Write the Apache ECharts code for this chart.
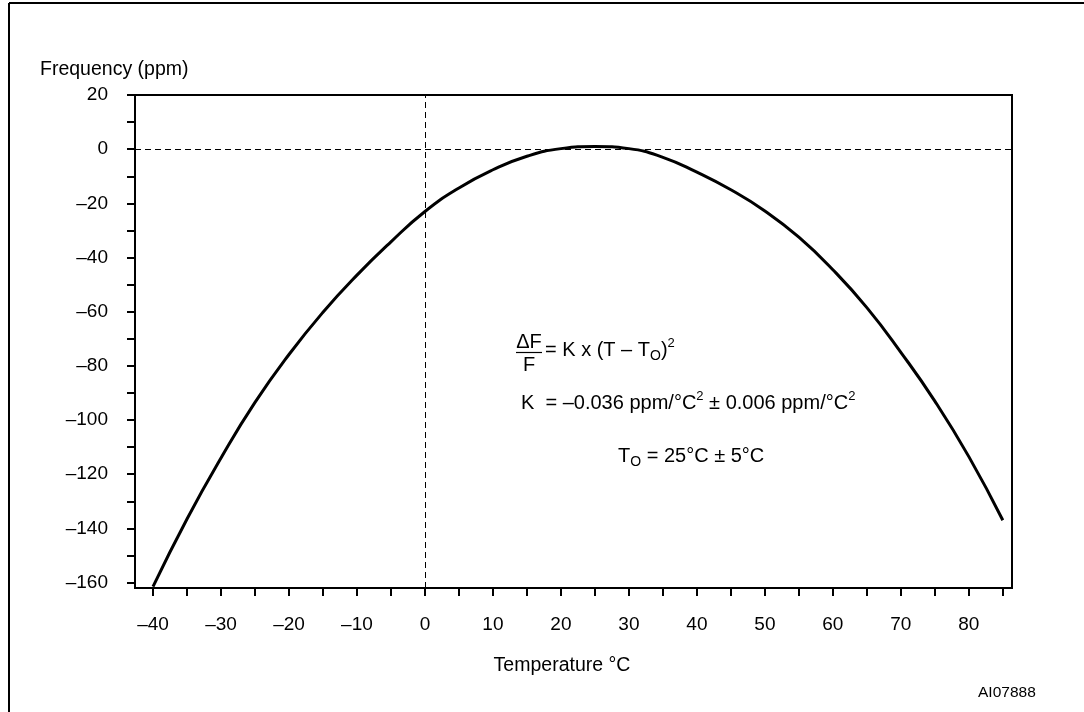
<!DOCTYPE html>
<html>
<head>
<meta charset="utf-8">
<script src="https://cdn.jsdelivr.net/npm/echarts@6/dist/echarts.min.js"></script>
<style>
  html, body { margin: 0; padding: 0; background: #fff; }
  #chart { width: 1084px; height: 712px; }
</style>
</head>
<body>
<div id="chart"></div>
<script>
// Temperature (°C) and frequency deviation (ppm)
var temperatures = [-40, -35, -30, -25, -20, -15, -10, -5, 0, 5, 10, 15, 20, 25, 30, 35, 40, 45, 50, 55, 60, 65, 70, 75, 80, 85];
var frequencyPpm = [-161.5, -136.5, -114, -93.5, -75.8, -60.2, -46.5, -34.2, -23, -14.3, -7.6, -2.6, 0.2, 1.0, 0.2, -3, -8.5, -15, -22.8, -32.5, -44.5, -58.5, -75, -93, -113.5, -137];

var xTickValues = [-40, -35, -30, -25, -20, -15, -10, -5, 0, 5, 10, 15, 20, 25, 30, 35, 40, 45, 50, 55, 60, 65, 70, 75, 80, 85];
var xLabelValues = [-40, -30, -20, -10, 0, 10, 20, 30, 40, 50, 60, 70, 80];
var yTickValues = [-160, -150, -140, -130, -120, -110, -100, -90, -80, -70, -60, -50, -40, -30, -20, -10, 0, 10, 20];
var yLabelValues = [-160, -140, -120, -100, -80, -60, -40, -20, 0, 20];

var seriesData = temperatures.map(function (t, i) { return [t, frequencyPpm[i]]; });
var FONT = '"Liberation Sans", Arial, Helvetica, sans-serif';
function dashMinus(v) { return String(v).replace('-', '\u2013'); }

var chart = echarts.init(document.getElementById('chart'), null, { renderer: 'canvas' });
chart.setOption({
  animation: false,
  backgroundColor: '#fff',
  textStyle: { fontFamily: FONT },
  title: {
    text: 'Frequency (ppm)',
    left: 35, top: 55,
    textStyle: { fontFamily: FONT, fontSize: 19.5, fontWeight: 'normal', color: '#000' }
  },
  grid: {
    left: 135, right: 72, top: 95, bottom: 124,
    show: true, borderColor: '#000', borderWidth: 2, backgroundColor: 'transparent'
  },
  xAxis: {
    type: 'value',
    min: -42.65, max: 86.35,
    name: 'Temperature \u00B0C',
    nameLocation: 'middle',
    nameGap: 68,
    nameTextStyle: { fontFamily: FONT, fontSize: 19.5, color: '#000', padding: [0, 23, 0, 0] },
    axisLine: { show: true, onZero: false, lineStyle: { color: '#000', width: 2 } },
    axisTick: { show: true, length: 8, lineStyle: { color: '#000', width: 2 }, customValues: xTickValues },
    axisLabel: { fontFamily: FONT, fontSize: 19, color: '#000', margin: 27, customValues: xLabelValues, formatter: dashMinus },
    splitLine: { show: false }
  },
  yAxis: {
    type: 'value',
    min: -162, max: 20,
    axisLine: { show: true, onZero: false, lineStyle: { color: '#000', width: 2 } },
    axisTick: { show: true, length: 8, lineStyle: { color: '#000', width: 2 }, customValues: yTickValues },
    axisLabel: { fontFamily: FONT, fontSize: 19, color: '#000', margin: 27, customValues: yLabelValues, formatter: dashMinus },
    splitLine: { show: false }
  },
  series: [{
    type: 'line',
    data: seriesData,
    smooth: true,
    showSymbol: false,
    lineStyle: { color: '#000', width: 3 },
    silent: true,
    markLine: {
      silent: true,
      symbol: 'none',
      label: { show: false },
      lineStyle: { color: '#000', width: 1, type: [6, 4] },
      data: [{ xAxis: 0 }, { yAxis: 0 }]
    }
  }],
  graphic: [
    { type: 'line', shape: { x1: 9, y1: 3, x2: 1084, y2: 3 }, style: { stroke: '#000', lineWidth: 2 } },
    { type: 'line', shape: { x1: 9, y1: 3, x2: 9, y2: 712 }, style: { stroke: '#000', lineWidth: 2 } },
    // formula line 1: ΔF / F = K x (T – T_O)^2
    { type: 'text', x: 529, y: 342, style: { text: '\u0394F', font: '20px ' + FONT, fill: '#000', align: 'center', verticalAlign: 'middle' } },
    { type: 'line', shape: { x1: 516, y1: 352.5, x2: 542, y2: 352.5 }, style: { stroke: '#000', lineWidth: 1.2 } },
    { type: 'text', x: 529, y: 365, style: { text: 'F', font: '20px ' + FONT, fill: '#000', align: 'center', verticalAlign: 'middle' } },
    { type: 'text', x: 545, y: 350, style: {
        text: '{n|= K x (T \u2013 T}{sub|O}{n|)}{sup|2}',
        align: 'left', verticalAlign: 'middle',
        rich: {
          n: { fontFamily: FONT, fontSize: 20, lineHeight: 26, fill: '#000', verticalAlign: 'middle' },
          sub: { fontFamily: FONT, fontSize: 14, lineHeight: 14, fill: '#000', verticalAlign: 'bottom' },
          sup: { fontFamily: FONT, fontSize: 13, lineHeight: 13, fill: '#000', verticalAlign: 'top' }
        }
    } },
    { type: 'text', x: 521, y: 403, style: {
        text: '{n|K  = \u20130.036 ppm/\u00B0C}{sup|2}{n| \u00B1 0.006 ppm/\u00B0C}{sup|2}',
        align: 'left', verticalAlign: 'middle',
        rich: {
          n: { fontFamily: FONT, fontSize: 20, lineHeight: 26, fill: '#000', verticalAlign: 'middle' },
          sup: { fontFamily: FONT, fontSize: 13, lineHeight: 13, fill: '#000', verticalAlign: 'top' }
        }
    } },
    { type: 'text', x: 618, y: 456, style: {
        text: '{n|T}{sub|O}{n| = 25\u00B0C \u00B1 5\u00B0C}',
        align: 'left', verticalAlign: 'middle',
        rich: {
          n: { fontFamily: FONT, fontSize: 20, lineHeight: 26, fill: '#000', verticalAlign: 'middle' },
          sub: { fontFamily: FONT, fontSize: 14, lineHeight: 14, fill: '#000', verticalAlign: 'bottom' }
        }
    } },
    { type: 'text', x: 978, y: 693, style: { text: 'AI07888', font: '15.5px ' + FONT, fill: '#000', align: 'left', verticalAlign: 'middle' } }
  ]
});
</script>
</body>
</html>
